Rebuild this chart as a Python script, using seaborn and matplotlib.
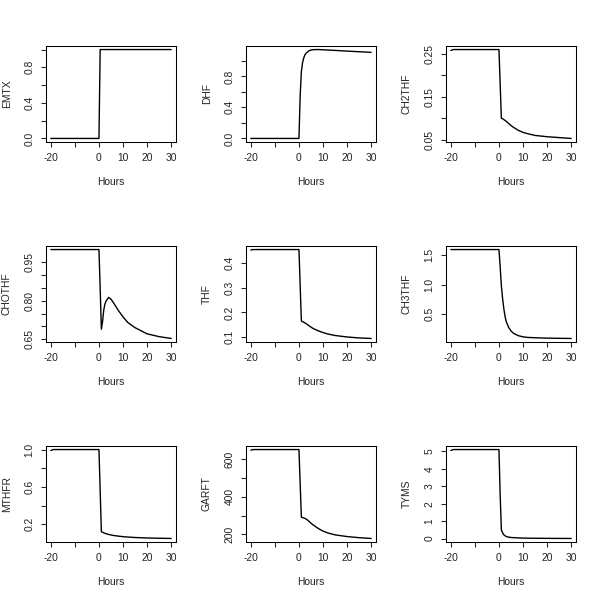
import numpy as np
import pandas as pd
import matplotlib
matplotlib.use('Agg')
import matplotlib.pyplot as plt
import seaborn as sns

# ------------------------------------------------------------------
# Data (time course after EMTX addition)
# ------------------------------------------------------------------
hours = [-20, -19, 0, 0.5, 1, 1.5, 2, 2.5, 3, 4, 5, 6, 8, 10, 12, 15, 20, 25, 30]

emtx = [0, 0, 0, 1, 1, 1, 1, 1, 1, 1, 1, 1, 1, 1, 1, 1, 1, 1, 1]
dhf = [0, 0, 0, 0.55, 0.86, 0.98, 1.04, 1.08, 1.10, 1.128, 1.14, 1.145,
       1.146, 1.143, 1.140, 1.135, 1.126, 1.118, 1.110]
ch2thf = [0.258, 0.260, 0.260, 0.18, 0.100, 0.099, 0.097, 0.095, 0.093, 0.088,
          0.083, 0.079, 0.072, 0.067, 0.064, 0.060, 0.057, 0.055, 0.053]
chothf = [1.0, 1.0, 1.0, 0.85, 0.689, 0.72, 0.765, 0.788, 0.800, 0.813, 0.806,
          0.793, 0.763, 0.737, 0.715, 0.695, 0.671, 0.660, 0.653]
thf = [0.454, 0.456, 0.456, 0.31, 0.165, 0.162, 0.160, 0.157, 0.154, 0.147,
       0.140, 0.134, 0.125, 0.118, 0.112, 0.106, 0.100, 0.096, 0.094]
ch3thf = [1.59, 1.59, 1.59, 1.30, 0.98, 0.77, 0.60, 0.47, 0.38, 0.28, 0.22,
          0.18, 0.14, 0.12, 0.11, 0.105, 0.098, 0.095, 0.093]
mthfr = [0.99, 1.0, 1.0, 0.56, 0.12, 0.114, 0.108, 0.103, 0.098, 0.091, 0.085,
         0.080, 0.073, 0.067, 0.063, 0.058, 0.053, 0.050, 0.048]
garft = [648, 651, 651, 470, 292, 290, 288, 285, 282, 272, 260, 250, 232, 218,
         208, 198, 189, 183, 179]
tyms = [5.05, 5.1, 5.1, 2.5, 0.5, 0.33, 0.22, 0.16, 0.12, 0.08, 0.06, 0.05,
        0.035, 0.025, 0.02, 0.015, 0.01, 0.007, 0.005]

names = ['EMTX', 'DHF', 'CH2THF', 'CHOTHF', 'THF', 'CH3THF', 'MTHFR', 'GARFT', 'TYMS']
series = [emtx, dhf, ch2thf, chothf, thf, ch3thf, mthfr, garft, tyms]

x_ticks = [-20, -10, 0, 10, 20, 30]
x_labels = ['-20', '', '0', '10', '20', '30']

y_ticks = [
    [0.0, 0.2, 0.4, 0.6, 0.8, 1.0],
    [0.0, 0.2, 0.4, 0.6, 0.8, 1.0],
    [0.05, 0.10, 0.15, 0.20, 0.25],
    [0.65, 0.70, 0.75, 0.80, 0.85, 0.90, 0.95],
    [0.1, 0.2, 0.3, 0.4],
    [0.5, 1.0, 1.5],
    [0.2, 0.4, 0.6, 0.8, 1.0],
    [200, 300, 400, 500, 600],
    [0, 1, 2, 3, 4, 5],
]
y_labels = [
    ['0.0', '', '0.4', '', '0.8', ''],
    ['0.0', '', '0.4', '', '0.8', ''],
    ['0.05', '', '0.15', '', '0.25'],
    ['0.65', '', '', '0.80', '', '', '0.95'],
    ['0.1', '0.2', '0.3', '0.4'],
    ['0.5', '1.0', '1.5'],
    ['0.2', '', '0.6', '', '1.0'],
    ['200', '', '400', '', '600'],
    ['0', '1', '2', '3', '4', '5'],
]

# ------------------------------------------------------------------
# Plot: 3x3 grid in the style of R base graphics
# ------------------------------------------------------------------
sns.set_style('white')
plt.rcParams['font.family'] = ['Liberation Sans', 'DejaVu Sans']
fs = 7.4

fig = plt.figure(figsize=(6, 6), dpi=100)
W, H = 600.0, 600.0

for i, (name, vals) in enumerate(zip(names, series)):
    row, col = divmod(i, 3)
    left = 46 + 200 * col
    top = 46 + 200 * row
    ax = fig.add_axes([left / W, 1 - (top + 96) / H, 130 / W, 96 / H])

    df = pd.DataFrame({'Hours': hours, name: vals})
    sns.lineplot(data=df, x='Hours', y=name, ax=ax, color='black', lw=1.0)

    ax.margins(0.04)
    ax.set_xticks(x_ticks)
    ax.set_xticklabels(x_labels)
    ax.set_yticks(y_ticks[i])
    ax.set_yticklabels(y_labels[i], rotation=90, va='center')

    for sp in ax.spines.values():
        sp.set_visible(True)
        sp.set_color('black')
        sp.set_linewidth(0.75)
    ax.tick_params(direction='out', length=3.6, width=0.75, pad=4.6,
                   colors='#222222', labelsize=fs, bottom=True, left=True)

    ax.set_xlabel('Hours', fontsize=fs, va='center', color='#222222')
    ax.set_ylabel(name, fontsize=fs, va='center', color='#222222')
    ax.xaxis.set_label_coords(0.5, -40 / 96)
    ax.yaxis.set_label_coords(-39 / 130, 0.5)

fig.savefig('out.png', dpi=100)
